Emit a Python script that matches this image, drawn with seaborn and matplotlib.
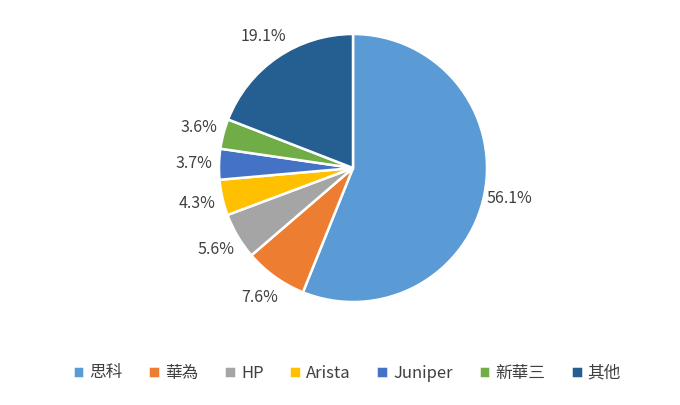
import numpy as np
import pandas as pd
import matplotlib
matplotlib.use("Agg")
import matplotlib.pyplot as plt
import seaborn as sns

# vendor shares (%)
vendors = ["思科", "華為", "HP", "Arista", "Juniper", "新華三", "其他"]
shares = [56.1, 7.6, 5.6, 4.3, 3.7, 3.6, 19.1]
colors = ["#5B9BD5", "#ED7D31", "#A5A5A5", "#FFC000", "#4472C4", "#70AD47", "#255E91"]

sns.set_theme(style="white")
plt.rcParams['font.family'] = ['Noto Sans CJK TC', 'DejaVu Sans']

palette = sns.color_palette(colors)

fig = plt.figure(figsize=(6.8, 4.05), dpi=100)
ax = fig.add_axes([(353 - 134) / 680, (237 - 134) / 405, 268 / 680, 268 / 405])

wedges, texts, autotexts = ax.pie(
    shares, colors=palette, startangle=90, counterclock=False,
    autopct='%1.1f%%', pctdistance=1.19,
    wedgeprops=dict(edgecolor='white', linewidth=1.8),
    textprops=dict(color='#404040', fontsize=11.5))
ax.set_xlim(-1, 1)
ax.set_ylim(-1, 1)
ax.set_aspect('auto')

fig.legend(wedges, vendors, loc='center', bbox_to_anchor=(0.51, 32 / 405), ncol=7,
           frameon=False, handlelength=0.7, handleheight=0.7, handletextpad=0.3,
           columnspacing=1.55, fontsize=12, labelcolor='#404040')

fig.savefig("out.png", dpi=100)
